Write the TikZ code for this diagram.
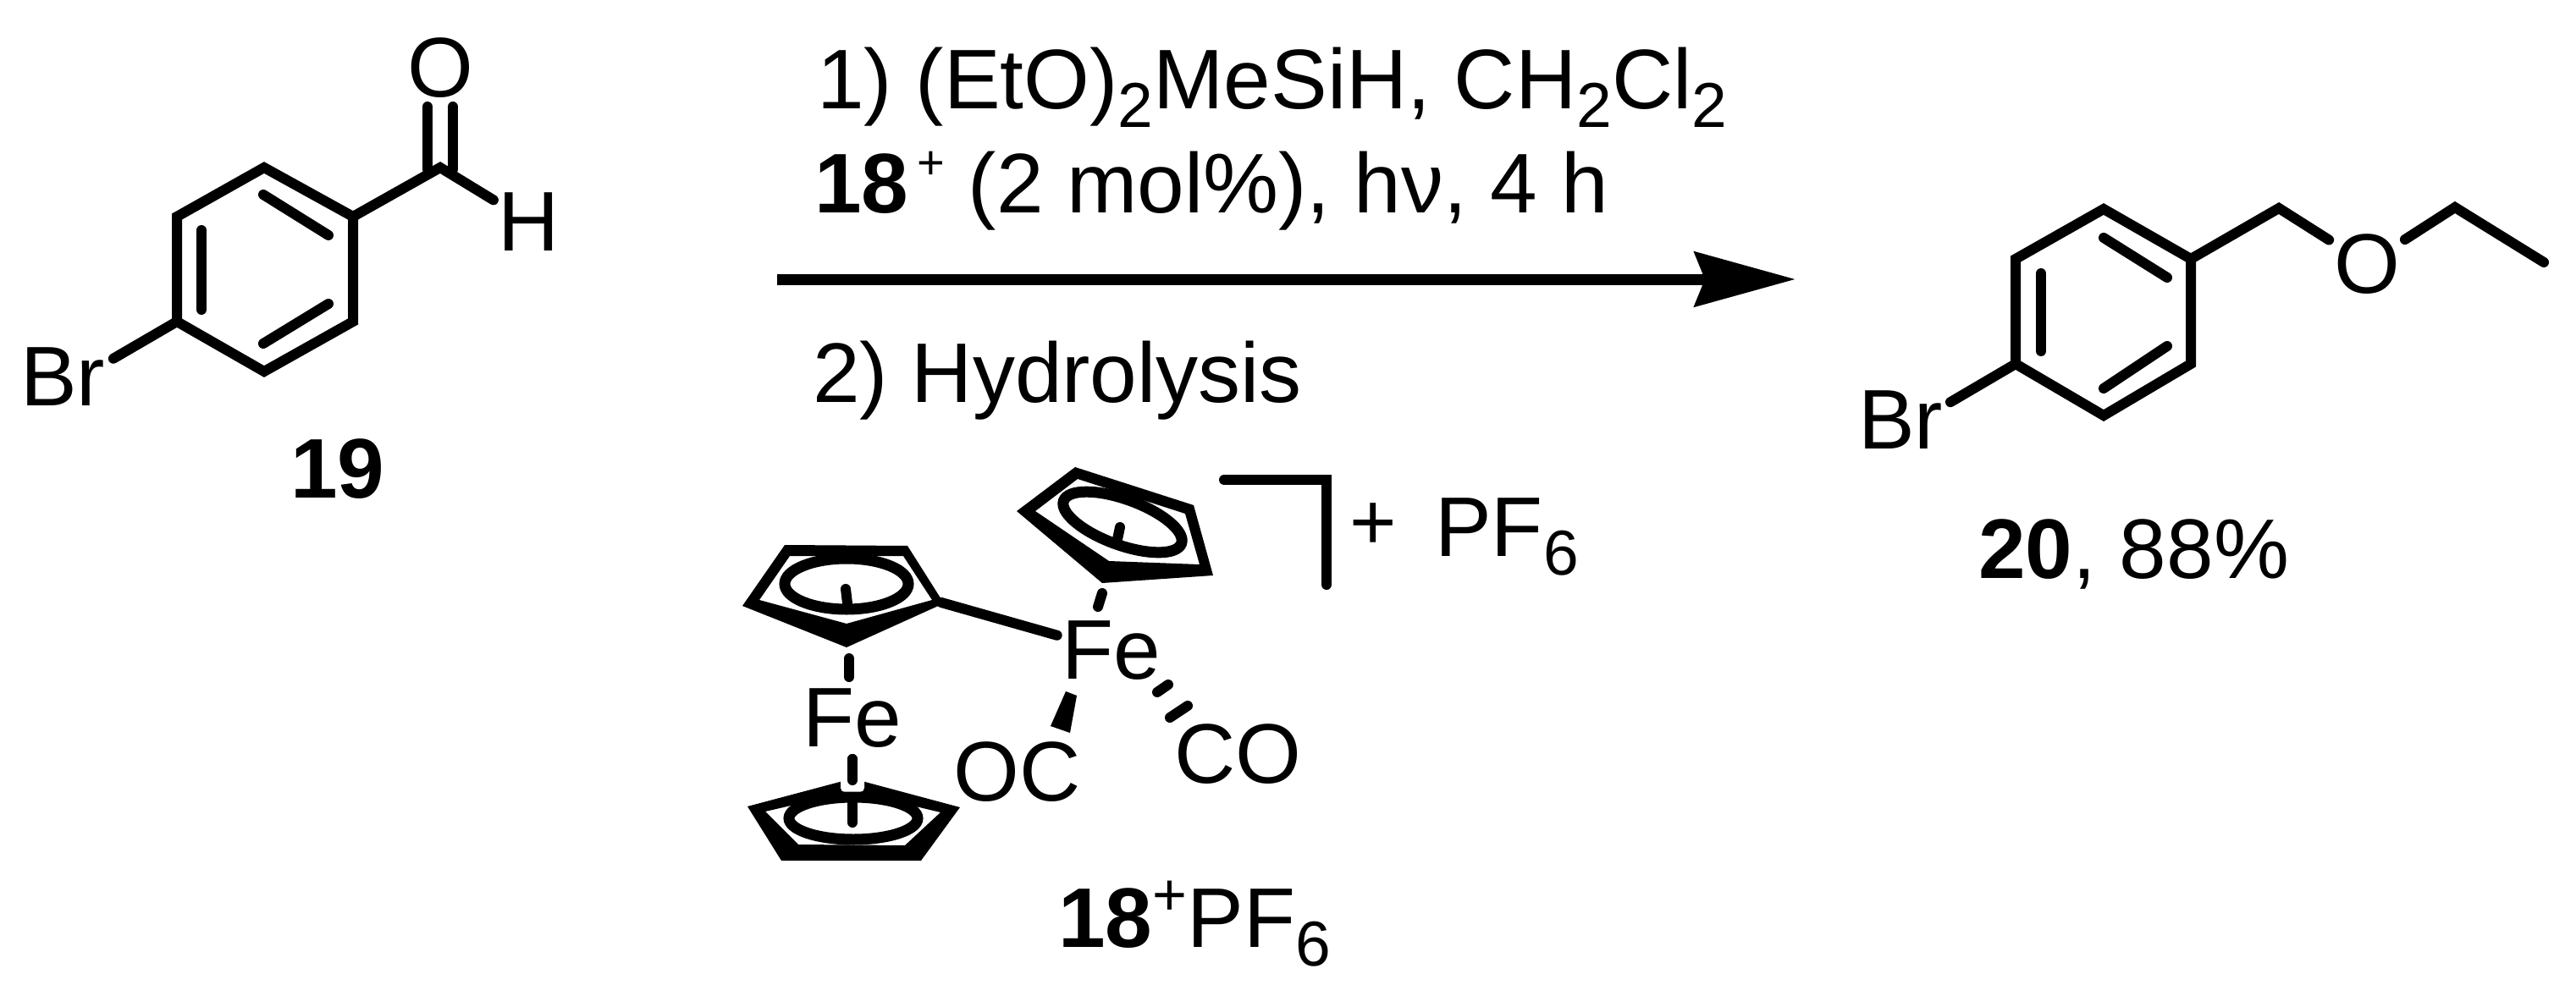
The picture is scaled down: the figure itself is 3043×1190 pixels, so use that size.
\documentclass[tikz,border=0pt]{standalone}
\usepackage{fontspec}
\setmainfont{Liberation Sans}
\usetikzlibrary{arrows.meta}

\newcommand{\chemsub}[1]{\raisebox{-22pt}{\fontsize{75}{75}\selectfont #1}}
\newcommand{\chemsup}[3]{\raisebox{#1}{\fontsize{#2}{#2}\selectfont #3}}

\tikzset{
  bond/.style={line width=12pt, line cap=round},
  cpring/.style={line width=13pt},
  atom/.style={inner sep=0pt, outer sep=6pt, font=\fontsize{100}{100}\selectfont},
  txt/.style={inner sep=0pt, anchor=base west, font=\fontsize{100}{100}\selectfont}
}

\begin{document}
\begin{tikzpicture}[x=1pt, y=-1pt]

    \useasboundingbox (0,0) rectangle (3043,1190);

    % Ring of the aldehyde
    \coordinate (A1) at (312,198);
    \coordinate (A2) at (417,256);
    \coordinate (A3) at (417,380);
    \coordinate (A4) at (312,439);
    \coordinate (A5) at (209,380);
    \coordinate (A6) at (209,256);
    \draw[bond] (A1) -- (A2) -- (A3) -- (A4) -- (A5) -- (A6) -- cycle;

    % Inner lines of the ring
    \coordinate (A7) at (238,272);
    \coordinate (A8) at (238,366);
    \coordinate (A9) at (311,230);
    \coordinate (A10) at (388,278);
    \coordinate (A11) at (388,359);
    \coordinate (A12) at (311,406);
    \draw[bond] (A7) -- (A8);
    \draw[bond] (A9) -- (A10);
    \draw[bond] (A11) -- (A12);

    % Aldehyde group and bromine
    \coordinate (CHO) at (520,198);
    \node[atom] (O1) at (520,80) {O};
    \node[atom] (H1) at (625,262) {H};
    \node[txt] (Br1) at (24,479) {Br};
    \coordinate (O1a) at (505,126);
    \coordinate (O1b) at (505,200);
    \coordinate (O1c) at (535,126);
    \coordinate (O1d) at (535,200);
    \draw[bond] (A2) -- (CHO) -- (H1);
    \draw[bond] (O1a) -- (O1b);
    \draw[bond] (O1c) -- (O1d);
    \draw[bond, shorten >=11pt] (A5) -- (Br1.17);
    \node[txt] (L19) at (343,588) {\textbf{19}};

    % Reaction arrow and conditions
    \coordinate (Start) at (918,330);
    \coordinate (End) at (2121,330);
    \draw[line width=13pt, -{Stealth[length=119pt, width=64pt, inset=12pt]}] (Start) -- (End);
    \node[txt] (Cond1) at (965,129) {1) (EtO)\chemsub{2}MeSiH, CH\chemsub{2}Cl\chemsub{2}};
    \node[txt] (Cond2) at (962,252) {\textbf{18}\kern10pt\chemsup{40pt}{56}{+} (2 mol\%), hν, 4 h};
    \node[txt] (Cond3) at (960,475) {2) Hydrolysis};

    % Upper ring of the ferrocene
    \fill[even odd rule] (927,644) -- (1072,645) -- (1115,713) -- (1000,765) -- (877,716) -- cycle
        (933,657) -- (1067,657) -- (1101,709) -- (1000,737) -- (897,709) -- cycle;
    \coordinate (CpA) at (1000,690);
    \coordinate (CpAv) at (1112,712);
    \coordinate (CpAt) at (999,696);
    \coordinate (CpAs) at (1001,713);
    \draw[cpring] (CpA) ellipse [x radius=73pt, y radius=30pt];
    \draw[bond] (CpAt) -- (CpAs);

    % Iron centres
    \node[atom] (Fe1) at (1007,849) {Fe};
    \node[atom] (Fe2) at (1313,769) {Fe};
    \coordinate (D1) at (1003,778);
    \coordinate (D2) at (1003,800);
    \draw[bond] (D1) -- (D2);
    \coordinate (D3) at (1007,897);
    \coordinate (D4) at (1007,922);
    \draw[bond] (D3) -- (D4);
    \draw[bond] (CpAv) -- (Fe2);

    % Lower ring of the ferrocene
    \fill[even odd rule] (883,953) -- (923,1017) -- (1088,1017) -- (1134,954) -- (1007,920) -- cycle
        (904,959) -- (943,998) -- (1069,999) -- (1111,960) -- (1007,935) -- cycle;
    \fill[white, rounded corners=5pt] (993,916) rectangle (1021,936);
    \draw[bond] (D3) -- (D4);
    \coordinate (CpB) at (1008,967);
    \coordinate (CpBt) at (1007,950);
    \coordinate (CpBs) at (1007,972);
    \draw[cpring] (CpB) ellipse [x radius=76pt, y radius=25pt];
    \draw[bond] (CpBt) -- (CpBs);

    % Ring on the second iron
    \fill[even odd rule] (1270,552) -- (1410,597) -- (1433,680) -- (1302,689) -- (1201,604) -- cycle
        (1273,566) -- (1400,607) -- (1417,667) -- (1310,663) -- (1223,604) -- cycle;
    \coordinate (CpC) at (1326,617);
    \coordinate (CpCt) at (1323,623);
    \coordinate (CpCs) at (1319,642);
    \draw[cpring, rotate around={-20:(CpC)}] (CpC) ellipse [x radius=74pt, y radius=27pt];
    \draw[bond] (CpCt) -- (CpCs);
    \coordinate (D5) at (1302,701);
    \coordinate (D6) at (1297,717);
    \draw[bond] (D5) -- (D6);

    % Carbonyl ligands
    \node[txt] (OC) at (1126,946) {OC};
    \node[txt] (CO) at (1387,925) {CO};
    \coordinate (W1) at (1259,817);
    \coordinate (W2) at (1272,822);
    \coordinate (W3) at (1264,866);
    \coordinate (W4) at (1241,858);
    \fill (W1) -- (W2) -- (W3) -- (W4) -- cycle;
    \coordinate (H2) at (1367,818);
    \coordinate (H3) at (1380,809);
    \coordinate (H4) at (1382,848);
    \coordinate (H5) at (1403,834);
    \draw[bond] (H2) -- (H3);
    \draw[bond] (H4) -- (H5);

    % Charge bracket and counter ion
    \coordinate (B1) at (1446,567);
    \coordinate (B2) at (1567,567);
    \coordinate (B3) at (1567,691);
    \draw[line width=12pt, line cap=round] (B1) -- (B2) -- (B3);
    \node[atom, font=\fontsize{95}{95}\selectfont] (Plus) at (1622,622) {+};
    \node[txt] (PF1) at (1695,657) {PF\chemsub{6}};
    \node[txt] (L18) at (1250,1119) {\textbf{18}\chemsup{38pt}{70}{+}PF\chemsub{6}};

    % Ring of the ether
    \coordinate (E1) at (2485,247);
    \coordinate (E2) at (2588,306);
    \coordinate (E3) at (2588,430);
    \coordinate (E4) at (2485,491);
    \coordinate (E5) at (2381,430);
    \coordinate (E6) at (2381,306);
    \draw[bond] (E1) -- (E2) -- (E3) -- (E4) -- (E5) -- (E6) -- cycle;

    % Inner lines of the ring
    \coordinate (E7) at (2411,323);
    \coordinate (E8) at (2411,415);
    \coordinate (E9) at (2485,281);
    \coordinate (E10) at (2560,328);
    \coordinate (E11) at (2560,409);
    \coordinate (E12) at (2485,459);
    \draw[bond] (E7) -- (E8);
    \draw[bond] (E9) -- (E10);
    \draw[bond] (E11) -- (E12);

    % Ether chain and bromine
    \coordinate (E13) at (2692,246);
    \coordinate (E14) at (2900,245);
    \coordinate (E15) at (3005,310);
    \node[atom] (O2) at (2796,312) {O};
    \node[txt] (Br2) at (2195,530) {Br};
    \draw[bond] (E2) -- (E13) -- (O2);
    \draw[bond] (O2) -- (E14) -- (E15);
    \draw[bond, shorten >=10pt] (E5) -- (Br2.17);
    \node[txt] (L20) at (2337,683) {\textbf{20}, 88\%};

\end{tikzpicture}
\end{document}
